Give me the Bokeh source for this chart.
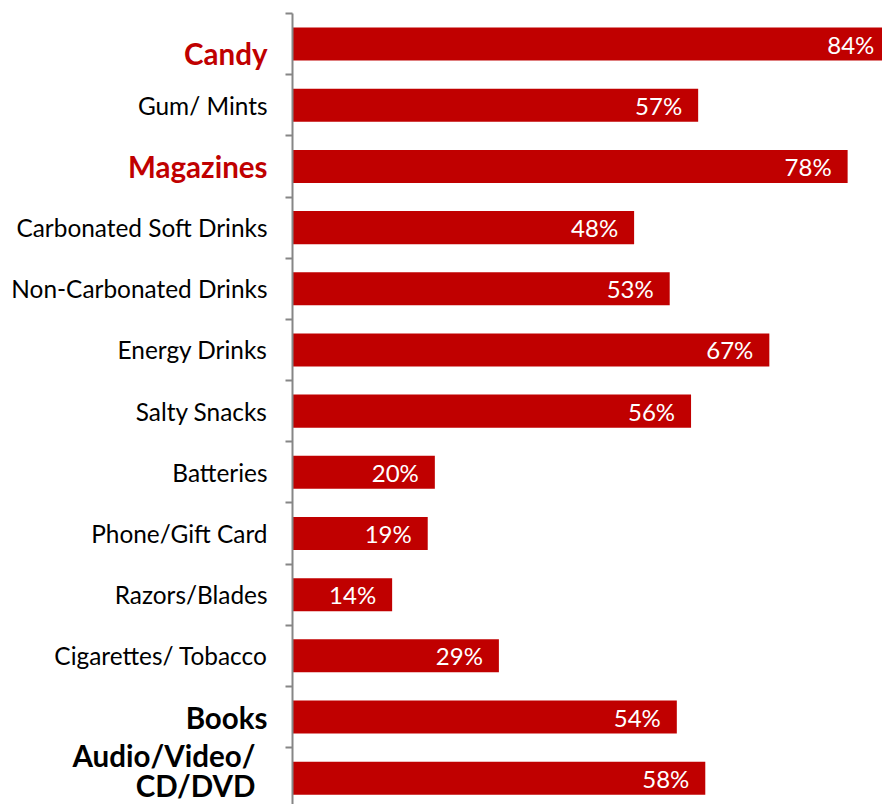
from bokeh.plotting import figure
from bokeh.models import Range1d, FixedTicker, ColumnDataSource, LinearAxis
from bokeh.layouts import row
from bokeh.core.properties import value
from bokeh.embed import file_html
from bokeh.resources import INLINE

categories = ["Candy", "Gum/ Mints", "Magazines", "Carbonated Soft Drinks",
              "Non-Carbonated Drinks", "Energy Drinks", "Salty Snacks", "Batteries",
              "Phone/Gift Card", "Razors/Blades", "Cigarettes/ Tobacco", "Books",
              "Audio/Video/\nCD/DVD"]
values = [84, 57, 78, 48, 53, 67, 56, 20, 19, 14, 29, 54, 58]
value_labels = [f"{v}%" for v in values]
red_bold = ["Candy", "Magazines"]
black_bold = ["Books", "Audio/Video/\nCD/DVD"]

BAR = "#C00000"
FONT = "Lato"

idx = list(range(len(categories)))
src = ColumnDataSource(dict(y=idx, v=values, lab=value_labels))

yr = Range1d(12.43, -0.5)

# label panel
cols, styles, sizes, xs, ys = [], [], [], [], []
for i, c in enumerate(categories):
    if c in red_bold:
        cols.append(BAR); styles.append("bold"); sizes.append("29.5px")
    elif c in black_bold:
        cols.append("black"); styles.append("bold"); sizes.append("29.5px")
    else:
        cols.append("black"); styles.append("normal"); sizes.append("24.4px")
    yy, xx = i, 267
    if i == 0:
        yy = i + 0.16
    if "\n" in c:
        yy, xx = i - 0.12, 255
    xs.append(xx); ys.append(yy)
lsrc = ColumnDataSource(dict(x=xs, y=ys, t=categories, c=cols, s=styles, fs=sizes))

left = figure(width=270, height=804, output_backend="svg", toolbar_location=None,
              x_range=Range1d(0, 270), y_range=yr,
              x_axis_location=None, y_axis_location=None,
              min_border_left=0, min_border_right=0, min_border_top=13, min_border_bottom=0)
left.grid.visible = False
left.outline_line_color = None
left.text(x="x", y="y", text="t", source=lsrc, text_align="right", text_baseline="middle",
          text_color="c", text_font=value(FONT), text_font_style="s",
          text_font_size="fs", text_line_height=0.86)

p = figure(width=612, height=804, output_backend="svg", toolbar_location=None,
           x_range=Range1d(0, 82.9), y_range=yr,
           x_axis_location=None, y_axis_location=None,
           min_border_left=22, min_border_right=0, min_border_top=13, min_border_bottom=0)
p.grid.visible = False
p.outline_line_color = None

ticks = [i - 0.5 for i in range(len(categories) + 1)]
ax = LinearAxis(ticker=FixedTicker(ticks=ticks),
                major_label_overrides={t: "" for t in ticks},
                major_label_text_font_size="1px",
                axis_line_color="#868686", axis_line_width=2,
                major_tick_line_color="#868686", major_tick_line_width=2,
                major_tick_out=7, major_tick_in=0,
                minor_tick_line_color=None)
p.add_layout(ax, "left")

p.hbar(y="y", right="v", left=0, height=0.54, source=src,
       fill_color=BAR, line_color=None)

p.text(x="v", y="y", text="lab", source=src, x_offset=-16,
       text_align="right", text_baseline="middle", text_color="white",
       text_font=value(FONT), text_font_size="24px")

layout = row(left, p, spacing=0)
open("out.html", "w").write(file_html(layout, INLINE))
